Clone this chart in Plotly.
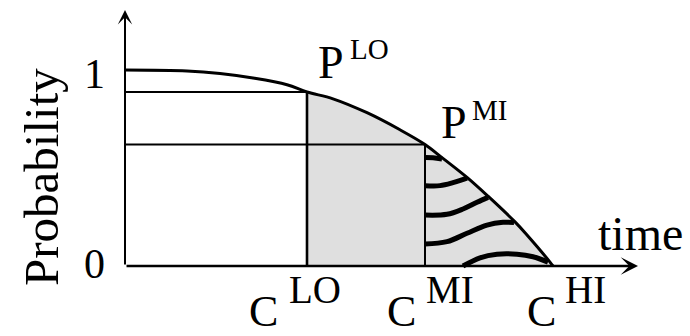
import plotly.graph_objects as go

# Survival-style probability curve over time
curve_t = [0, 0.62, 0.95, 1.28, 1.62, 1.82, 2.08, 2.42, 2.75, 3.0, 3.17, 3.42, 3.63, 3.90, 4.02, 4.25, 4.28]
curve_p = [1.0, 0.995, 0.982, 0.959, 0.925, 0.888, 0.853, 0.782, 0.695, 0.620, 0.553, 0.452, 0.356, 0.225, 0.158, 0.020, 0.0]

# Marked time points and the probabilities they give
C_LO, C_MI, C_HI = 1.82, 3.0, 4.28
P_LO, P_MI = 0.888, 0.620

# Wavy hatch strokes in the region between C_MI and C_HI
hatch_t = [
    [3.0, 3.08, 3.17],
    [3.0, 3.15, 3.28, 3.42],
    [3.0, 3.22, 3.38, 3.52, 3.63],
    [3.0, 3.22, 3.42, 3.62, 3.78, 3.89],
    [3.38, 3.55, 3.72, 3.92, 4.08, 4.23],
]
hatch_p = [
    [0.553, 0.552, 0.546],
    [0.410, 0.410, 0.425, 0.448],
    [0.260, 0.264, 0.291, 0.325, 0.350],
    [0.112, 0.124, 0.167, 0.209, 0.223, 0.222],
    [0.0, 0.042, 0.060, 0.060, 0.047, 0.020],
]

T_TIP, P_TIP = 5.13, 1.306  # ends of the axis arrows

W, H = 690, 336
FONT = "Liberation Serif"

fig = go.Figure()

# shaded area under the curve from C_LO onwards
i0 = curve_t.index(C_LO)
fig.add_trace(go.Scatter(
    x=curve_t[i0:], y=curve_p[i0:], mode="lines", line=dict(width=0, shape="spline"),
    fill="tozeroy", fillcolor="#dfdfdf", hoverinfo="skip"))

for ht, hp in zip(hatch_t, hatch_p):
    fig.add_trace(go.Scatter(x=ht, y=hp, mode="lines",
                             line=dict(color="black", width=5, shape="spline"),
                             hoverinfo="skip"))

# guide lines at the two marked points
guides = [
    ([0, C_LO], [P_LO, P_LO], 2),
    ([C_LO, C_LO], [0, P_LO], 2.6),
    ([0, C_MI], [P_MI, P_MI], 2),
    ([C_MI, C_MI], [0, P_MI], 2),
]
for gx, gy, w in guides:
    fig.add_trace(go.Scatter(x=gx, y=gy, mode="lines",
                             line=dict(color="black", width=w), hoverinfo="skip"))

fig.add_trace(go.Scatter(x=curve_t, y=curve_p, mode="lines",
                         line=dict(color="black", width=3, shape="spline"),
                         hoverinfo="skip"))

# axes drawn as arrows
arrows = [
    dict(x=T_TIP, y=0, ax=0, ay=0, arrowwidth=2.4),
    dict(x=0, y=P_TIP, ax=0, ay=0, arrowwidth=2),
]
annotations = []
for a in arrows:
    annotations.append(dict(
        x=a["x"], y=a["y"], ax=a["ax"], ay=a["ay"], xref="x", yref="y",
        axref="x", ayref="y", showarrow=True, arrowhead=3, arrowsize=1.2,
        arrowwidth=a["arrowwidth"], arrowcolor="black", text=""))

# text labels: (text, centre x px, centre y px, font size, angle)
labels = [
    ("1", 94, 74, 42, 0),
    ("0", 94, 264, 42, 0),
    ("Probability", 41, 177, 49, -90),
    ("time", 640, 233, 48, 0),
    ("P", 331, 62, 46, 0),
    ("LO", 369, 49, 29, 0),
    ("P", 454, 122, 46, 0),
    ("MI", 489, 110, 29, 0),
    ("C", 263, 311, 44, 0),
    ("LO", 315, 289, 39, 0),
    ("C", 401, 311, 44, 0),
    ("MI", 450, 289, 39, 0),
    ("C", 541, 311, 44, 0),
    ("HI", 585, 289, 39, 0),
]
for text, cx, cy, size, ang in labels:
    annotations.append(dict(
        text=text, x=cx / W, y=1 - cy / H, xref="paper", yref="paper",
        xanchor="center", yanchor="middle", showarrow=False, textangle=ang,
        borderpad=0, font=dict(family=FONT, size=size, color="black")))

fig.update_layout(
    width=W, height=H, margin=dict(l=0, r=0, t=0, b=0),
    paper_bgcolor="white", plot_bgcolor="white", showlegend=False,
    xaxis=dict(range=[-1.25, 5.65], visible=False, fixedrange=True),
    yaxis=dict(range=[-70 / 196, 266 / 196], visible=False, fixedrange=True),
    annotations=annotations,
)

fig.write_html("out.html", config={"displayModeBar": False})
